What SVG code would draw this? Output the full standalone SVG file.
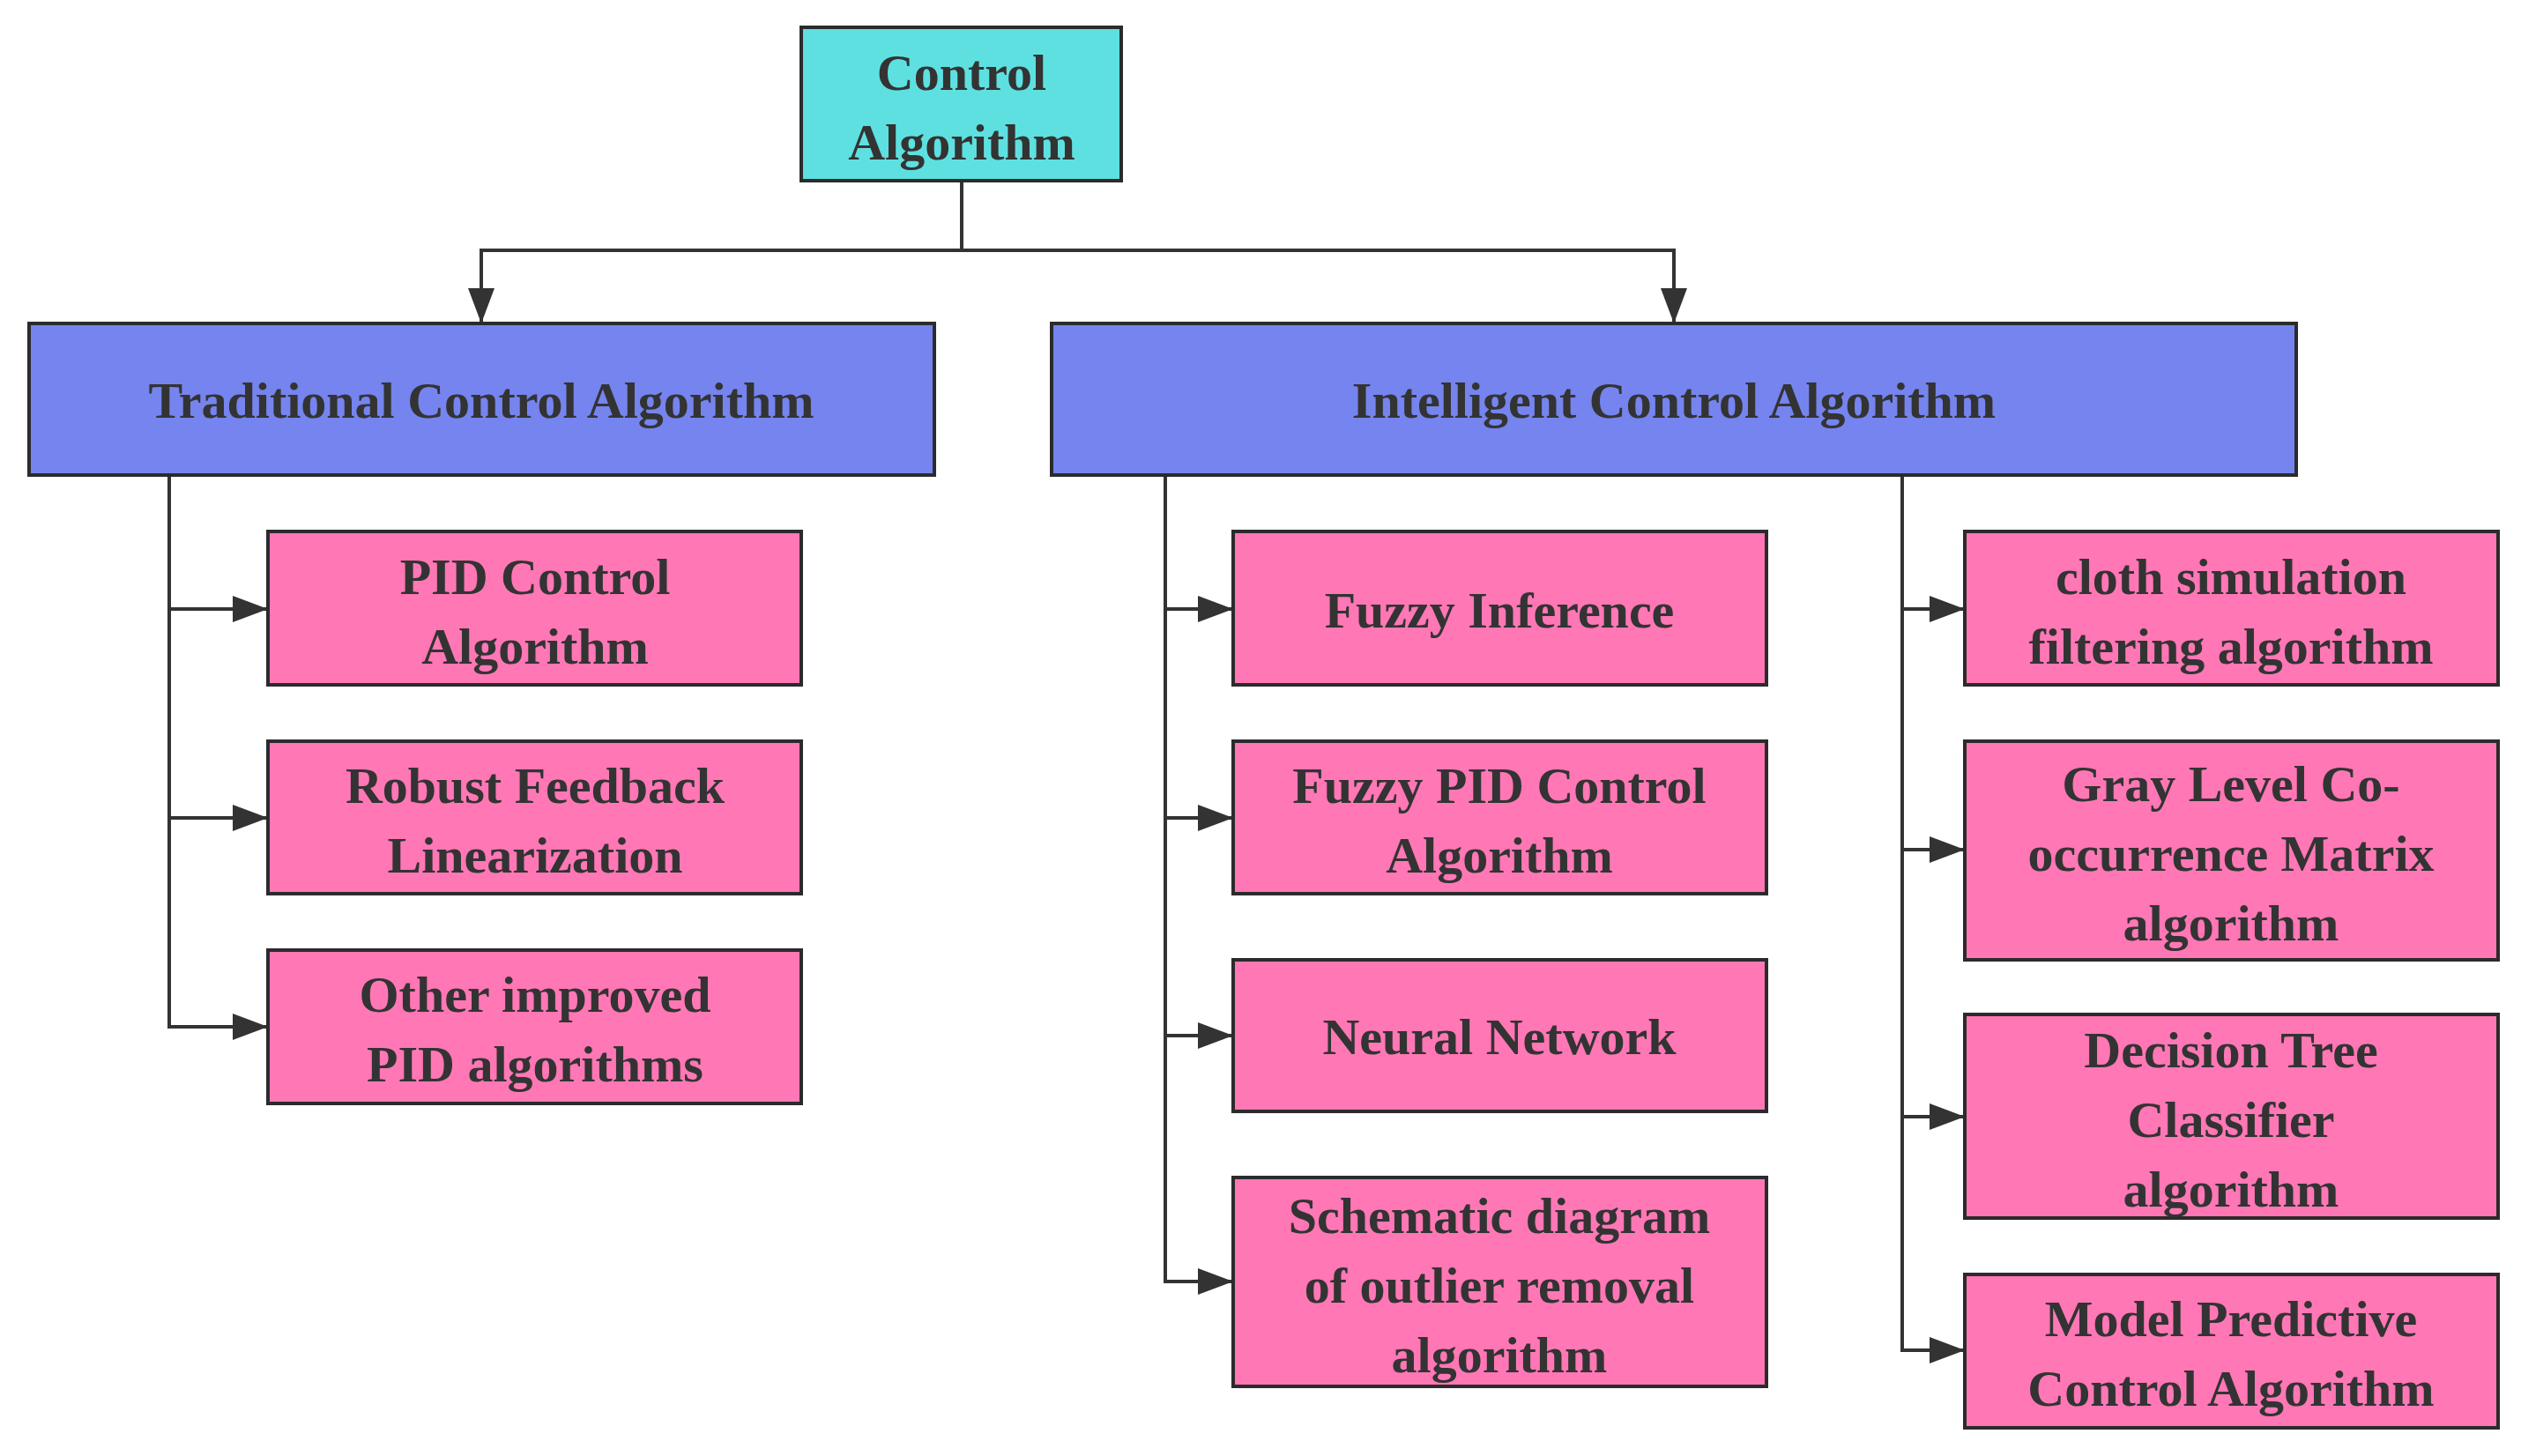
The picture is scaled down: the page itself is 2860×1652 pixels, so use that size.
<svg xmlns="http://www.w3.org/2000/svg" width="2860" height="1652" viewBox="0 0 2860 1652">
<style>
rect{stroke:#2b2b2b;stroke-width:4}
.r{fill:#5EE0E0}.b{fill:#7584EE}.p{fill:#FF77B5}
text{font-family:"Liberation Serif",serif;font-weight:bold;font-size:58px;fill:#333;text-anchor:middle}
#edges path{fill:none;stroke:#333;stroke-width:4}
</style>
<defs><marker id="a" markerUnits="userSpaceOnUse" markerWidth="40" markerHeight="40" viewBox="0 0 40 40" refX="40" refY="20" orient="auto"><path d="M0,5 L40,20 L0,35 Z" fill="#333"/></marker></defs>
<rect width="2860" height="1652" fill="#fff" style="stroke:none"/>
<g id="edges">
<path d="M1091,205 V284 H546 V367" marker-end="url(#a)"/>
<path d="M1091,284 H1899 V367" marker-end="url(#a)"/>
<path d="M192,539 V1165 H304" marker-end="url(#a)"/>
<path d="M192,691 H304" marker-end="url(#a)"/>
<path d="M192,928 H304" marker-end="url(#a)"/>
<path d="M1322,539 V1454 H1399" marker-end="url(#a)"/>
<path d="M1322,691 H1399" marker-end="url(#a)"/>
<path d="M1322,928 H1399" marker-end="url(#a)"/>
<path d="M1322,1175 H1399" marker-end="url(#a)"/>
<path d="M2158,539 V1532 H2229" marker-end="url(#a)"/>
<path d="M2158,691 H2229" marker-end="url(#a)"/>
<path d="M2158,964 H2229" marker-end="url(#a)"/>
<path d="M2158,1267 H2229" marker-end="url(#a)"/>
</g>
<g id="root"><rect class="r" x="909" y="31" width="363" height="174"/><text x="1091" y="102">Control</text><text x="1091" y="181">Algorithm</text></g>
<g id="trad"><rect class="b" x="33" y="367" width="1027" height="172"/><text x="546" y="474">Traditional Control Algorithm</text></g>
<g id="intel"><rect class="b" x="1193" y="367" width="1412" height="172"/><text x="1899" y="474">Intelligent Control Algorithm</text></g>
<g id="pid"><rect class="p" x="304" y="603" width="605" height="174"/><text x="607" y="674">PID Control</text><text x="607" y="753">Algorithm</text></g>
<g id="rfl"><rect class="p" x="304" y="841" width="605" height="173"/><text x="607" y="911">Robust Feedback</text><text x="607" y="990">Linearization</text></g>
<g id="oip"><rect class="p" x="304" y="1078" width="605" height="174"/><text x="607" y="1148">Other improved</text><text x="607" y="1227">PID algorithms</text></g>
<g id="fi"><rect class="p" x="1399" y="603" width="605" height="174"/><text x="1701" y="712">Fuzzy Inference</text></g>
<g id="fpid"><rect class="p" x="1399" y="841" width="605" height="173"/><text x="1701" y="911">Fuzzy PID Control</text><text x="1701" y="990">Algorithm</text></g>
<g id="nn"><rect class="p" x="1399" y="1089" width="605" height="172"/><text x="1701" y="1196">Neural Network</text></g>
<g id="sd"><rect class="p" x="1399" y="1336" width="605" height="237"/><text x="1701" y="1399">Schematic diagram</text><text x="1701" y="1478">of outlier removal</text><text x="1701" y="1557">algorithm</text></g>
<g id="csf"><rect class="p" x="2229" y="603" width="605" height="174"/><text x="2531" y="674">cloth simulation</text><text x="2531" y="753">filtering algorithm</text></g>
<g id="glcm"><rect class="p" x="2229" y="841" width="605" height="248"/><text x="2531" y="909">Gray Level Co-</text><text x="2531" y="988">occurrence Matrix</text><text x="2531" y="1067">algorithm</text></g>
<g id="dt"><rect class="p" x="2229" y="1151" width="605" height="231"/><text x="2531" y="1211">Decision Tree</text><text x="2531" y="1290">Classifier</text><text x="2531" y="1369">algorithm</text></g>
<g id="mpc"><rect class="p" x="2229" y="1446" width="605" height="174"/><text x="2531" y="1516">Model Predictive</text><text x="2531" y="1595">Control Algorithm</text></g>
</svg>
